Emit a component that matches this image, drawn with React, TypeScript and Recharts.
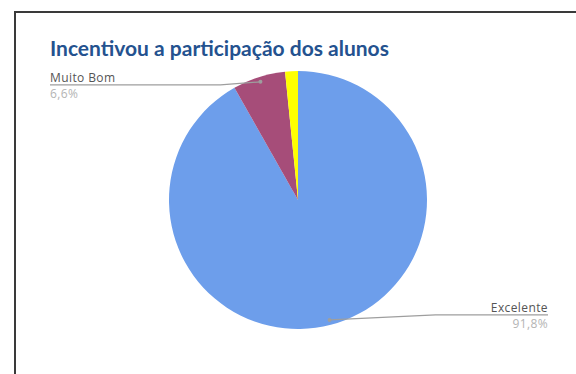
import React from 'react';
import { PieChart, Pie, Cell } from 'recharts';

const categories = ['Excelente', 'Muito Bom', 'Bom'];
const values = [91.8, 6.6, 1.6];
const colors = ['#6d9eeb', '#a64d79', '#ffff00'];
const shownLabels = ['Excelente', 'Muito Bom'];

const data = categories.map((name, i) => ({ name, value: values[i] }));

const RADIAN = Math.PI / 180;

const renderLabel = (props: any) => {
  const { cx, cy, midAngle, outerRadius, name, value } = props;
  if (!shownLabels.includes(name)) return null;
  const cos = Math.cos(-midAngle * RADIAN);
  const sin = Math.sin(-midAngle * RADIAN);
  const dotX = cx + (outerRadius - 5) * cos;
  const dotY = cy + (outerRadius - 5) * sin;
  const right = cos >= 0;
  const lineY = dotY > cy ? dotY - 5 : dotY + 3;
  const endX = right ? cx + 250 : cx - 248;
  const elbowX = right ? dotX + 106 : dotX - 40;
  const pct = value.toFixed(1).replace('.', ',') + '%';
  return (
    <g>
      <polyline
        points={`${dotX},${dotY} ${elbowX},${lineY} ${endX},${lineY}`}
        fill="none"
        stroke="#9e9e9e"
        strokeWidth={1.2}
      />
      <circle cx={dotX} cy={dotY} r={2} fill="#9e9e9e" />
      <text
        x={endX}
        y={lineY - 3}
        textAnchor={right ? 'end' : 'start'}
        fontSize={12}
        letterSpacing={0.4}
        fill="#555"
        fontFamily="'Open Sans', sans-serif"
      >
        {name}
      </text>
      <text
        x={endX}
        y={lineY + 13}
        textAnchor={right ? 'end' : 'start'}
        fontSize={12}
        letterSpacing={0.4}
        fill="#b4b4b4"
        fontFamily="'Open Sans', sans-serif"
      >
        {pct}
      </text>
    </g>
  );
};

export default function App() {
  return (
    <div
      style={{
        position: 'fixed',
        left: 0,
        top: 0,
        width: 576,
        height: 374,
        overflow: 'hidden',
        background: '#fff',
      }}
    >
      {/* frame: only the top and left edges show in the crop */}
      <svg width={576} height={374} style={{ position: 'absolute', left: 0, top: 0 }}>
        <line x1={15} y1={12} x2={600} y2={12} stroke="#3a3a3a" strokeWidth={2} />
        <line x1={15} y1={11} x2={15} y2={400} stroke="#3a3a3a" strokeWidth={2} />
      </svg>
      <div
        style={{
          position: 'absolute',
          left: 50,
          top: 35,
          fontFamily: 'Lato, sans-serif',
          fontWeight: 700,
          fontSize: 21,
          color: '#24528f',
          whiteSpace: 'nowrap',
        }}
      >
        Incentivou a participação dos alunos
      </div>
      <div style={{ position: 'absolute', left: 0, top: 0 }}>
        <PieChart width={576} height={374} margin={{ top: 0, right: 0, bottom: 0, left: 0 }}>
          <Pie
            data={data}
            dataKey="value"
            nameKey="name"
            cx={298}
            cy={200}
            outerRadius={129}
            startAngle={90}
            endAngle={-270}
            stroke="none"
            label={renderLabel}
            labelLine={false}
            isAnimationActive={false}
          >
            {data.map((d, i) => (
              <Cell key={d.name} fill={colors[i]} />
            ))}
          </Pie>
        </PieChart>
      </div>
    </div>
  );
}
